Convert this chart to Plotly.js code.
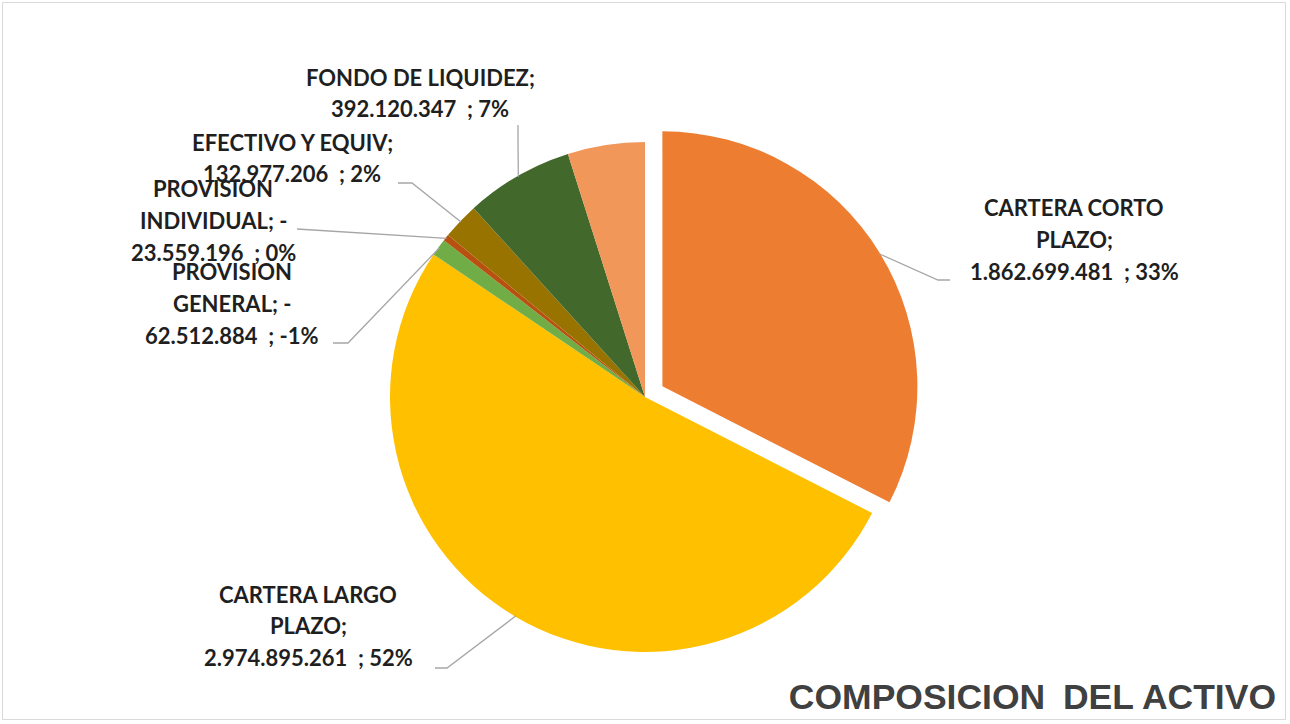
<!DOCTYPE html>
<html>
<head>
<meta charset="utf-8">
<script src="https://cdn.plot.ly/plotly-3.0.1.min.js"></script>
<style>
html,body{margin:0;padding:0;background:#ffffff;}
#chart{width:1290px;height:724px;}
</style>
</head>
<body>
<div id="chart"></div>
<script>
// ---- data ----
const categories = ["CARTERA CORTO PLAZO", "CARTERA LARGO PLAZO", "PROVISION GENERAL", "PROVISION INDIVIDUAL", "EFECTIVO Y EQUIV", "FONDO DE LIQUIDEZ", "OTROS ACTIVOS"];
const values = [1862699481, 2974895261, -62512884, -23559196, 132977206, 392120347, 280000000];
const showLabel = [true, true, true, true, true, true, false];

// ---- style / layout ----
const W = 1290, H = 724;
const colors = ["#ED7D31", "#FFC000", "#70AD47", "#B8500F", "#997300", "#43682B", "#F1975A"];
const pulls = [0.08, 0, 0, 0, 0, 0, 0];
const CX = 645, CY = 397, R = 255;
const maxPull = Math.max.apply(null, pulls);
const half = R * (1 + maxPull);
const domY0 = 1 - (CY + half) / H;
const domY1 = domY0 + 2 * half / H;

const labelX = [1074, 308, 232, 213, 292, 420, null];
const labelY0 = [208, 594, 272, 189, 142, 77, null];
const lineGap = 31.5;
const wrapAfter = [2, 2, 1, 1, 99, 99, 99];
const leaderPts = [[[950, 280], [938, 280]], [[435, 668], [447, 668]], [[333, 343], [348, 343]], [[297, 229]], [[398, 183], [412, 183]], [[518, 125], [518, 140]], null];

function fmt(n) {
  return String(Math.abs(n)).replace(/\B(?=(\d{3})+(?!\d))/g, ".");
}
const absVals = values.map(v => Math.abs(v));
const absTotal = absVals.reduce((a, b) => a + b, 0);

const annotations = [];
const shapes = [];
let start = 0;
values.forEach((v, i) => {
  const sweep = absVals[i] / absTotal * 360;
  const mid = (start + sweep / 2) * Math.PI / 180;
  start += sweep;
  if (!showLabel[i]) return;
  const off = pulls[i] * R;
  const ax = CX + (R - 1 + off) * Math.sin(mid);
  const ay = CY - (R - 1 + off) * Math.cos(mid);
  const words = categories[i].split(" ");
  const k = Math.min(wrapAfter[i], words.length);
  const neg = v < 0 ? " -" : "";
  const lines = [];
  if (k < words.length) {
    lines.push(words.slice(0, k).join(" "));
    lines.push(words.slice(k).join(" ") + ";" + neg);
  } else {
    lines.push(words.join(" ") + ";" + neg);
  }
  const pct = Math.round(v / absTotal * 100);
  lines.push(fmt(v) + "\u00a0 ; " + String(pct) + "%");
  lines.forEach((t, j) => {
    annotations.push({
      text: "<b>" + t + "</b>",
      x: labelX[i] / W, y: 1 - (labelY0[i] + j * lineGap) / H,
      xref: "paper", yref: "paper", xanchor: "center", yanchor: "middle",
      showarrow: false,
      font: {family: "Lato, 'Open Sans', sans-serif", size: 22, color: "#1f1f1f"}
    });
  });
  const pts = leaderPts[i].concat([[ax, ay]]);
  let path = "";
  pts.forEach((p, j) => {
    path += (j === 0 ? "M " : " L ") + (p[0] / W).toFixed(5) + "," + (1 - p[1] / H).toFixed(5);
  });
  shapes.push({type: "path", xref: "paper", yref: "paper", path: path, line: {color: "#a6a6a6", width: 1.3}, layer: "above"});
});

shapes.push({type: "rect", xref: "paper", yref: "paper", x0: 2.5 / W, x1: 1285.5 / W, y0: 1 - 719.5 / H, y1: 1 - 2.5 / H, line: {color: "#d9d9d9", width: 1}, fillcolor: "rgba(0,0,0,0)"});

const trace = {
  type: "pie",
  labels: categories,
  values: absVals,
  sort: false,
  direction: "clockwise",
  rotation: 0,
  pull: pulls,
  marker: {colors: colors, line: {width: 0}},
  textinfo: "none",
  hoverinfo: "label+value+percent",
  domain: {x: [0, 1], y: [domY0, domY1]}
};

const layout = {
  width: W, height: H,
  margin: {l: 0, r: 0, t: 0, b: 0},
  paper_bgcolor: "#ffffff",
  showlegend: false,
  title: {
    text: "<b>COMPOSICION\u2002DEL ACTIVO</b>",
    x: 1276 / W, xanchor: "right", xref: "container",
    y: 0.021, yanchor: "bottom", yref: "container",
    font: {family: "'Liberation Sans', Arial, sans-serif", size: 35.5, color: "#404040"}
  },
  annotations: annotations,
  shapes: shapes
};

Plotly.newPlot("chart", [trace], layout, {displayModeBar: false, staticPlot: true});
</script>
</body>
</html>
